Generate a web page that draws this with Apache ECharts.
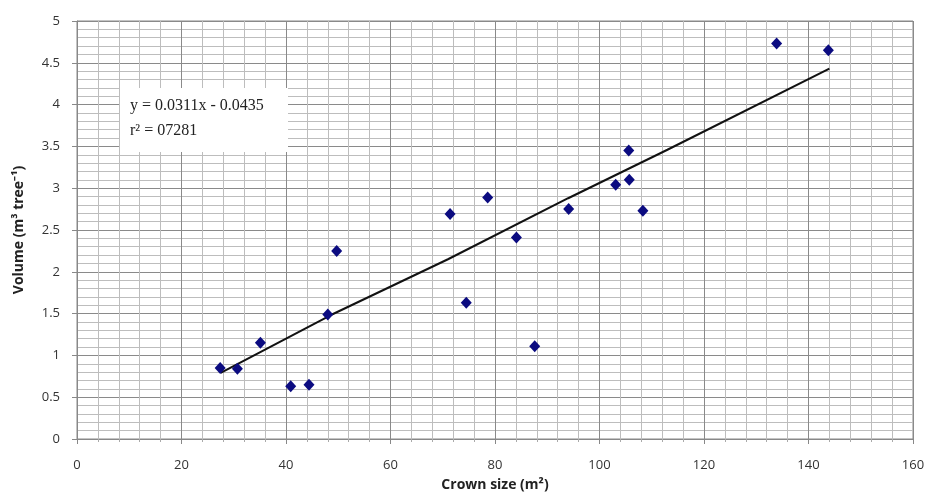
<!DOCTYPE html>
<html>
<head>
<meta charset="utf-8">
<script src="https://cdn.jsdelivr.net/npm/echarts@6/dist/echarts.min.js"></script>
<style>
  html, body { margin: 0; padding: 0; background: #fff; }
  #chart { width: 929px; height: 492px; }
</style>
</head>
<body>
<div id="chart"></div>
<script>
// crown size (m2) vs volume (m3 per tree)
const crownSize = [27.4, 30.7, 35.1, 40.9, 44.4, 48.0, 49.7, 71.4, 74.5, 78.6, 84.1, 87.6, 94.1, 103.1, 105.7, 105.6, 108.3, 133.9, 143.8];
const volume    = [0.85, 0.84, 1.15, 0.63, 0.65, 1.49, 2.25, 2.69, 1.63, 2.89, 2.41, 1.11, 2.75, 3.04, 3.10, 3.45, 2.73, 4.73, 4.65];

// trend line as drawn (endpoints + kink points)
const trendX = [27.5, 48.5, 71.0, 94.0, 113.0, 144.0];
const trendY = [0.79, 1.48, 2.15, 2.88, 3.46, 4.43];

const eqLine1 = 'y = 0.0311x - 0.0435';
const eqLine2 = 'r² = 07281';

const points = crownSize.map((x, i) => [x, volume[i]]);
const trend = trendX.map((x, i) => [x, trendY[i]]);

const chart = echarts.init(document.getElementById('chart'));
const tickFont = { color: '#333', fontSize: 13, fontFamily: 'Open Sans' };

chart.setOption({
    animation: false,
    grid: {
        left: 77, right: 16, top: 21, bottom: 53,
        outerBoundsMode: 'none',
        show: true, borderColor: '#888', borderWidth: 1
    },
    xAxis: {
        type: 'value',
        min: 0, max: 160, interval: 20,
        name: 'Crown size (m²)',
        nameLocation: 'middle',
        nameGap: 39,
        nameTextStyle: { fontSize: 14, fontWeight: 'bold', color: '#222', fontFamily: 'Open Sans' },
        axisLine: { show: true, onZero: false, lineStyle: { color: '#888' } },
        axisTick: { show: true, length: 5, lineStyle: { color: '#888' } },
        minorTick: { show: true, splitNumber: 5, length: 3, lineStyle: { color: '#aaa' } },
        axisLabel: Object.assign({ margin: 20 }, tickFont),
        splitLine: { show: true, lineStyle: { color: '#8a8a8a', width: 1 } },
        minorSplitLine: { show: true, lineStyle: { color: '#bdbdbd', width: 1 } }
    },
    yAxis: {
        type: 'value',
        min: 0, max: 5, interval: 0.5,
        name: 'Volume (m³ tree⁻¹)',
        nameLocation: 'middle',
        nameGap: 51,
        nameTextStyle: { fontSize: 14, fontWeight: 'bold', color: '#222', fontFamily: 'Open Sans' },
        axisLine: { show: true, lineStyle: { color: '#888' } },
        axisTick: { show: true, length: 5, lineStyle: { color: '#888' } },
        minorTick: { show: false },
        axisLabel: Object.assign({ margin: 17 }, tickFont),
        splitLine: { show: true, lineStyle: { color: '#8a8a8a', width: 1 } },
        minorSplitLine: { show: true, lineStyle: { color: '#bdbdbd', width: 1 } }
    },
    graphic: [{
        type: 'group',
        left: 120, top: 88,
        z: 100,
        children: [
            { type: 'rect', z: 100, shape: { x: 0, y: 0, width: 168, height: 64 }, style: { fill: '#fff' } },
            { type: 'text', z: 101, x: 10, y: 10, style: { text: eqLine1, fontSize: 16, fontFamily: 'Liberation Serif', fill: '#222' } },
            { type: 'text', z: 101, x: 10, y: 35, style: { text: eqLine2, fontSize: 16, fontFamily: 'Liberation Serif', fill: '#222' } }
        ]
    }],
    series: [{
        type: 'line',
        data: trend,
        symbol: 'none',
        lineStyle: { color: '#111', width: 2 },
        z: 3
    }, {
        type: 'scatter',
        data: points,
        symbol: 'diamond',
        symbolSize: [11, 12],
        itemStyle: { color: '#0b0b80', opacity: 1 },
        z: 4
    }]
});
</script>
</body>
</html>
